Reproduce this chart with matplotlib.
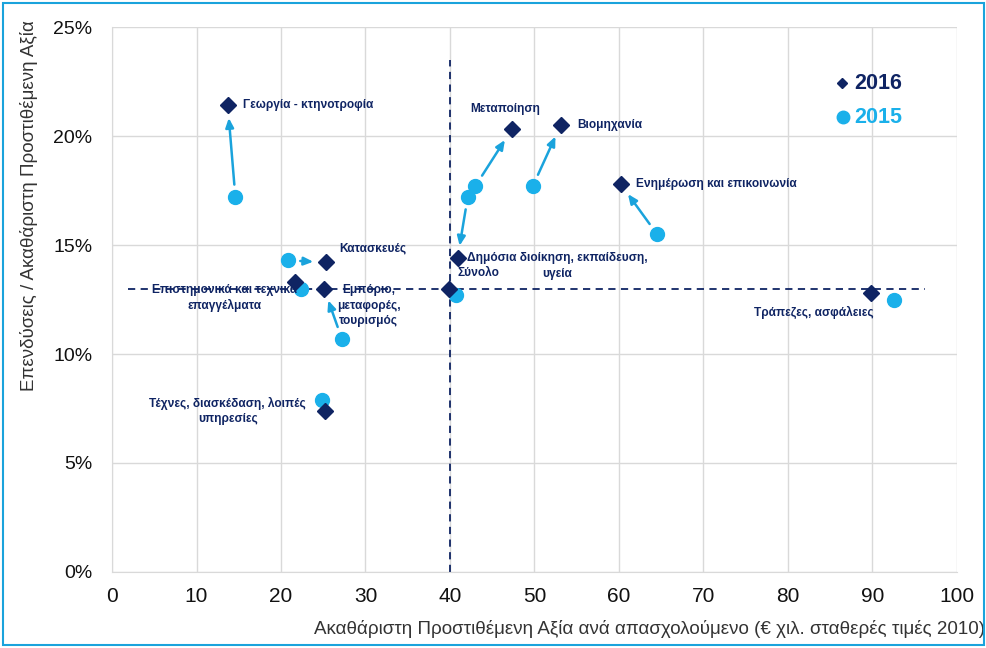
import matplotlib
matplotlib.use("Agg")
import matplotlib.pyplot as plt
from matplotlib.patches import Rectangle

plt.rcParams['font.family'] = ['Liberation Sans', 'DejaVu Sans']

sectors = ["Γεωργία - κτηνοτροφία", "Μεταποίηση", "Βιομηχανία",
           "Ενημέρωση και επικοινωνία", "Δημόσια διοίκηση, εκπαίδευση,\nυγεία",
           "Κατασκευές", "Επιστημονικά και τεχνικά\nεπαγγέλματα",
           "Εμπόριο,\nμεταφορές,\nτουρισμός", "Σύνολο", "Τράπεζες, ασφάλειες",
           "Τέχνες, διασκέδαση, λοιπές\nυπηρεσίες"]
x2016 = [13.7, 47.3, 53.1, 60.2, 40.9, 25.3, 21.7, 25.1, 39.9, 89.8, 25.2]
y2016 = [21.4, 20.3, 20.5, 17.8, 14.4, 14.2, 13.3, 13.0, 13.0, 12.8, 7.4]
x2015 = [14.6, 43.0, 49.8, 64.5, 42.1, 20.8, 22.4, 27.2, 40.7, 92.5, 24.8]
y2015 = [17.2, 17.7, 17.7, 15.5, 17.2, 14.3, 13.0, 10.7, 12.7, 12.5, 7.9]
arrow_flags = [1, 1, 1, 1, 1, 1, 0, 1, 0, 0, 0]
avg_x = 40.0
avg_y = 13.0

navy = "#0f2463"
light = "#1ab0ea"

fig = plt.figure(figsize=(9.87, 6.48), dpi=100)
ax = fig.add_axes([0.1135, 0.1173, 0.856, 0.841])

ax.set_xlim(0, 100)
ax.set_ylim(0, 25)
ax.set_xticks(range(0, 101, 10))
ax.set_yticks(range(0, 26, 5))
ax.set_yticklabels([f"{v}%" for v in range(0, 26, 5)])
ax.grid(True, color="#d9d9d9", linewidth=1)
ax.set_axisbelow(True)
for s in ["top", "right"]:
    ax.spines[s].set_visible(False)
for s in ["left", "bottom"]:
    ax.spines[s].set_color("#d9d9d9")
ax.tick_params(length=0)
ax.tick_params(axis='x', pad=11, labelsize=15, labelcolor="#111111")
ax.tick_params(axis='y', pad=14, labelsize=14, labelcolor="#111111")

# reference lines
ax.plot([1.9, 96.2], [avg_y, avg_y], ls=(0, (4, 3)), color=navy, lw=1.3, zorder=2)
ax.plot([avg_x, avg_x], [0, 23.5], ls=(0, (4, 3)), color=navy, lw=1.3, zorder=2)

# arrows
for i in range(len(sectors)):
    if arrow_flags[i]:
        ax.annotate("", xy=(x2016[i], y2016[i]), xytext=(x2015[i], y2015[i]),
                    arrowprops=dict(arrowstyle="-|>,head_length=0.55,head_width=0.24",
                                    color="#1aa3dc", lw=1.8, shrinkA=9, shrinkB=9),
                    zorder=3)

ax.plot(x2015, y2015, 'o', ms=10, color=light, ls='none', zorder=4)
ax.plot(x2016, y2016, 'D', ms=8, color=navy, ls='none', zorder=5)

# labels (offsets in points); multi-line labels drawn line by line
lab_kw = dict(fontsize=8.6, fontweight='bold', color=navy, zorder=6)
offsets = [
    (11, 0, 'left'),
    (-5, 15, 'center'),
    (12, 0, 'left'),
    (11, 0, 'left'),
    (72, 0, 'center'),
    (10, 10, 'left'),
    (-51, -6, 'center'),
    (32, -1, 'center'),
    (6, 11, 'left'),
    (-41, -14, 'center'),
    (-70, 5, 'center'),
]
line_step = 11.2  # points between label lines
for i, name in enumerate(sectors):
    dx, dy, ha = offsets[i]
    lines = name.split("\n")
    for k, line in enumerate(lines):
        h = 'center' if (ha == 'center' or len(lines) > 1) else ha
        ax.annotate(line, xy=(x2016[i], y2016[i]), xytext=(dx, dy - k * line_step),
                    textcoords='offset points', ha=h, va='center', **lab_kw)

# legend
ax.plot([86.4], [22.43], 'D', ms=5.5, color=navy, clip_on=False)
ax.text(87.8, 22.43, "2016", fontsize=15.5, fontweight='bold', color=navy, va='center', ha='left')
ax.plot([86.5], [20.87], 'o', ms=9, color=light, clip_on=False)
ax.text(87.8, 20.87, "2015", fontsize=15.5, fontweight='bold', color=light, va='center', ha='left')

ax.set_xlabel("Ακαθάριστη Προστιθέμενη Αξία ανά απασχολούμενο (€ χιλ. σταθερές τιμές 2010)",
              fontsize=13.5, color="#333333")
ax.xaxis.set_label_coords(1.033, -0.105)
ax.xaxis.label.set_ha('right')
ax.xaxis.label.set_va('center')

ax.set_ylabel("Επενδύσεις / Ακαθάριστη Προστιθέμενη Αξία", fontsize=13.5, color="#333333")
ax.yaxis.set_label_coords(-0.098, 1.012)
ax.yaxis.label.set_va('center')
ax.yaxis.label.set_ha('right')

fig.patches.append(Rectangle((0.003, 0.004), 0.994, 0.992, transform=fig.transFigure,
                             fill=False, edgecolor="#1aa3dc", lw=1.5))

fig.savefig("out.png", dpi=100)
